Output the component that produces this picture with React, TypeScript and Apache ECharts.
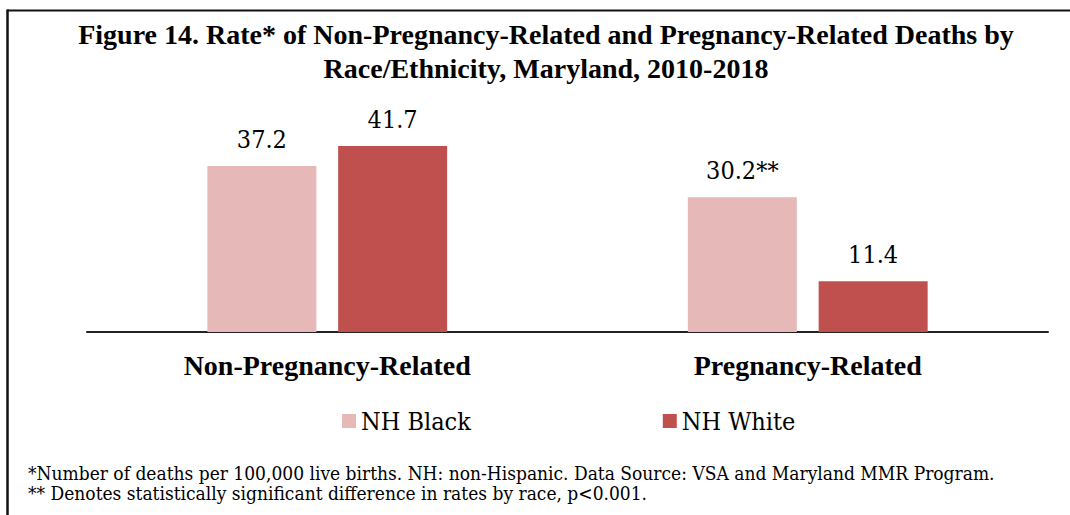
import React, { useEffect, useRef } from "react";
import * as echarts from "echarts";

const categories = ["Non-Pregnancy-Related", "Pregnancy-Related"];
const seriesNames = ["NH Black", "NH White"];
const blackValues = [37.2, 30.2];
const whiteValues = [41.7, 11.4];
const blackLabelSuffix = ["", "**"];
const whiteLabelSuffix = ["", ""];
const titleLines = [
  "Figure 14. Rate* of Non-Pregnancy-Related and Pregnancy-Related Deaths by",
  "Race/Ethnicity, Maryland, 2010-2018",
];
const footnotes = [
  "*Number of deaths per 100,000 live births. NH: non-Hispanic. Data Source: VSA and Maryland MMR Program.",
  "** Denotes statistically significant difference in rates by race, p<0.001.",
];

const BOLD_SERIF = "Liberation Serif";
const REG_SERIF = "DejaVu Serif Condensed";
const BLACK_COLOR = "#E6B9B8";
const WHITE_COLOR = "#C0504D";

export default function App() {
  const ref = useRef<HTMLDivElement>(null);
  useEffect(() => {
    if (!ref.current) return;
    const chart = echarts.init(ref.current, undefined, { renderer: "svg" });
    const labelStyle = (suffixes: string[]) => ({
      show: true,
      position: "top" as const,
      distance: 14,
      fontFamily: REG_SERIF,
      fontSize: 25,
      lineHeight: 25,
      color: "#000",
      formatter: (p: any) => `${p.value}${suffixes[p.dataIndex]}`,
    });
    chart.setOption({
      animation: false,
      backgroundColor: "#fff",
      grid: { left: 87, right: 22, top: 109, bottom: 183, containLabel: false },
      xAxis: {
        type: "category",
        data: categories,
        axisLine: { show: true, lineStyle: { color: "#222", width: 2 } },
        axisTick: { show: false },
        axisLabel: {
          fontFamily: BOLD_SERIF,
          fontSize: 28,
          lineHeight: 28,
          fontWeight: "bold",
          color: "#000",
          margin: 19,
        },
      },
      yAxis: {
        type: "value",
        min: 0,
        max: 50,
        show: false,
        splitLine: { show: false },
      },
      legend: {
        data: seriesNames,
        left: 342,
        top: 408.5,
        padding: 0,
        itemWidth: 14,
        itemHeight: 14,
        itemGap: 192,
        icon: "rect",
        textStyle: {
          fontFamily: REG_SERIF,
          fontSize: 25,
          lineHeight: 25,
          color: "#000",
        },
      },
      series: [
        {
          name: seriesNames[0],
          type: "bar",
          data: blackValues,
          barWidth: 109,
          barGap: "20%",
          itemStyle: { color: BLACK_COLOR },
          label: labelStyle(blackLabelSuffix),
        },
        {
          name: seriesNames[1],
          type: "bar",
          data: whiteValues,
          barWidth: 109,
          barGap: "20%",
          itemStyle: { color: WHITE_COLOR },
          label: labelStyle(whiteLabelSuffix),
        },
      ],
      graphic: [
        {
          type: "line",
          shape: { x1: 7, y1: 10.5, x2: 1070, y2: 10.5 },
          style: { stroke: "#111", lineWidth: 2 },
        },
        {
          type: "line",
          shape: { x1: 7.5, y1: 9.5, x2: 7.5, y2: 515 },
          style: { stroke: "#111", lineWidth: 2.5 },
        },
        {
          type: "text",
          x: 546,
          y: 51.3,
          style: {
            text: titleLines.join("\n"),
            fontFamily: BOLD_SERIF,
            fontWeight: "bold",
            fontSize: 28,
            fill: "#000",
            align: "center",
            verticalAlign: "middle",
            lineHeight: 33.7,
          },
        },
        {
          type: "text",
          x: 28,
          y: 472.8,
          style: {
            text: footnotes[0],
            fontFamily: REG_SERIF,
            fontSize: 19,
            lineHeight: 19,
            fill: "#000",
            align: "left",
            verticalAlign: "middle",
          },
        },
        {
          type: "text",
          x: 28,
          y: 493.2,
          style: {
            text: footnotes[1],
            fontFamily: REG_SERIF,
            fontSize: 19,
            lineHeight: 19,
            fill: "#000",
            align: "left",
            verticalAlign: "middle",
          },
        },
      ],
    });
    return () => chart.dispose();
  }, []);
  return (
    <div
      ref={ref}
      style={{ position: "absolute", left: 0, top: 0, width: 1070, height: 515 }}
    />
  );
}
